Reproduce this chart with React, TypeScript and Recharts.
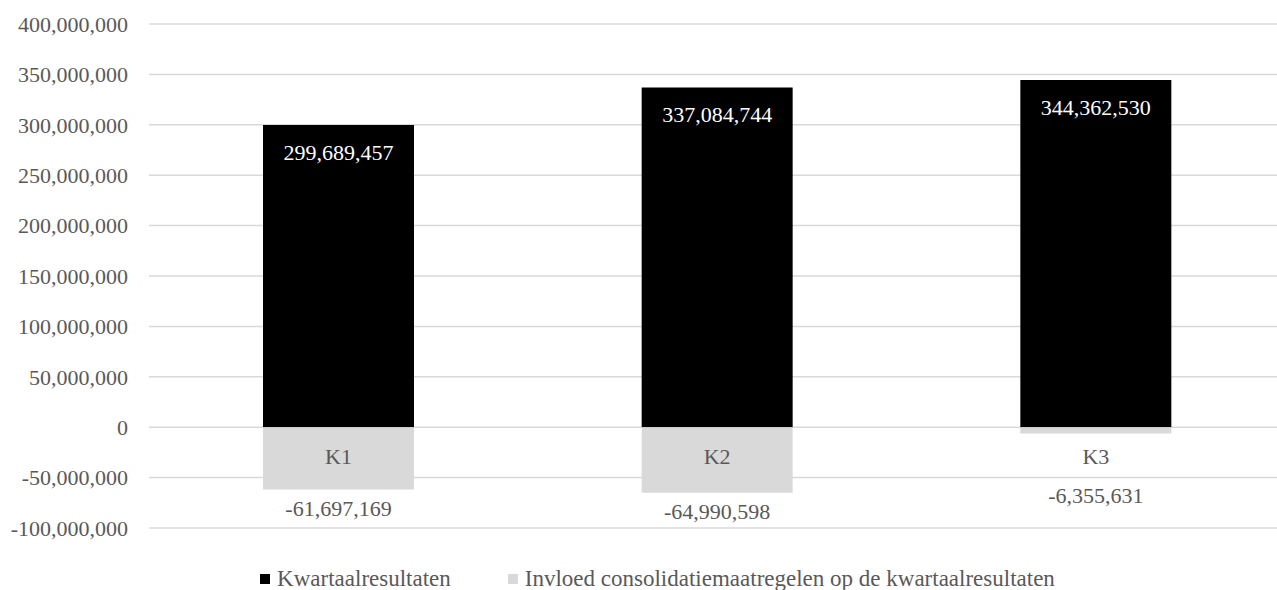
import { BarChart, Bar, XAxis, YAxis, CartesianGrid, LabelList, Legend } from "recharts";

const QUARTERS = ["K1", "K2", "K3"];
const RESULTS = [299689457, 337084744, 344362530];
const CONSOLIDATION = [-61697169, -64990598, -6355631];
const Y_TICKS = [-100000000, -50000000, 0, 50000000, 100000000, 150000000, 200000000, 250000000, 300000000, 350000000, 400000000];

const SERIES_NAMES = ["Kwartaalresultaten", "Invloed consolidatiemaatregelen op de kwartaalresultaten"];

const data = QUARTERS.map((k, i) => ({ k, res: RESULTS[i], cons: CONSOLIDATION[i] }));

const FONT = "'Liberation Serif', 'Times New Roman', serif";
const GREY_TEXT = "#595959";
const fmt = (v: number) => v.toLocaleString("en-US");

// category name sits just under the zero line, like excel's "axis at zero"
const CategoryLabel = (props: any) => {
  const { x, y, width, height, value } = props;
  const zero = Math.max(y, y + height);
  return (
    <text x={x + width / 2} y={zero + 29} textAnchor="middle" dominantBaseline="central"
      fill={GREY_TEXT} fontSize={22} fontFamily={FONT}>{value}</text>
  );
};

// negative label below the bar, pushed down when it would hit the category label
const NegLabel = (props: any) => {
  const { x, y, width, height, value } = props;
  const top = Math.min(y, y + height);
  const bottom = Math.max(y, y + height);
  const ly = Math.max(bottom + 19, top + 68);
  return (
    <text x={x + width / 2} y={ly} textAnchor="middle" dominantBaseline="central"
      fill={GREY_TEXT} fontSize={22} fontFamily={FONT}>{fmt(value)}</text>
  );
};

const PosLabel = (props: any) => {
  const { x, y, width, height, value } = props;
  const top = Math.min(y, y + height);
  return (
    <text x={x + width / 2} y={top + 27} textAnchor="middle" dominantBaseline="central"
      fill="#fff" fontSize={22} fontFamily={FONT}>{fmt(value)}</text>
  );
};

const LegendContent = (props: any) => {
  const items = [...(props.payload || [])].sort(
    (a: any, b: any) => SERIES_NAMES.indexOf(a.value) - SERIES_NAMES.indexOf(b.value)
  );
  return (
    <div style={{ display: "flex", justifyContent: "center", gap: 57, fontFamily: FONT, fontSize: 23, color: GREY_TEXT }}>
      {items.map((p: any, i: number) => (
        <div key={i} style={{ display: "flex", alignItems: "center" }}>
          <span style={{ width: 10, height: 10, background: p.color, marginRight: 7, display: "inline-block" }} />
          <span>{p.value}</span>
        </div>
      ))}
    </div>
  );
};

export default function App() {
  return (
    <div style={{ position: "absolute", left: 0, top: 0, width: 1277, height: 590, overflow: "hidden", background: "#fff", fontFamily: FONT }}>
      <BarChart width={1277} height={590} data={data} stackOffset="sign"
        margin={{ top: 24, right: -8, left: 0, bottom: 36 }}>
        <CartesianGrid vertical={false} stroke="#d9d9d9" strokeWidth={1.5} />
        <XAxis dataKey="k" hide />
        <YAxis width={149} domain={[-100000000, 400000000]} ticks={Y_TICKS} tickFormatter={fmt}
          axisLine={false} tickLine={false} tickSize={0} tickMargin={21} interval={0}
          tick={{ fill: GREY_TEXT, fontSize: 22, fontFamily: FONT }} />
        <Legend verticalAlign="bottom" content={<LegendContent />}
          wrapperStyle={{ left: 38, width: 1239, top: 566, bottom: "auto" }} />
        <Bar dataKey="res" name={SERIES_NAMES[0]} stackId="a" fill="#000000" barSize={151} isAnimationActive={false}>
          <LabelList dataKey="res" content={<PosLabel />} />
          <LabelList dataKey="k" content={<CategoryLabel />} />
        </Bar>
        <Bar dataKey="cons" name={SERIES_NAMES[1]} stackId="a" fill="#d9d9d9" barSize={151} isAnimationActive={false}>
          <LabelList dataKey="cons" content={<NegLabel />} />
        </Bar>
      </BarChart>
    </div>
  );
}
